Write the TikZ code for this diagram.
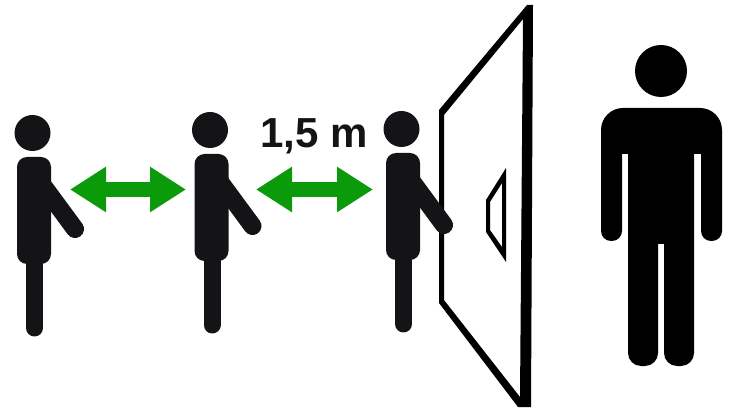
\documentclass[tikz,border=0pt]{standalone}
\usepackage{fontspec}
\setsansfont{Liberation Sans}
\usepackage[dvipsnames]{xcolor}
\usetikzlibrary{arrows.meta}
\definecolor{figblack}{HTML}{141416}
\definecolor{arrowgreen}{HTML}{0A9A0A}
\tikzset{
  limb/.style={draw=figblack, line width=#1, line cap=round},
  distarrow/.style={draw=arrowgreen, line width=15pt, {Triangle[length=36pt,width=43pt]}-{Triangle[length=36pt,width=43pt]}},
  distlabel/.style={inner sep=0pt, anchor=base west, text=figblack, font=\sffamily\bfseries\fontsize{42}{42}\selectfont},
}
\begin{document}
\begin{tikzpicture}[x=1pt, y=-1pt]
	 \useasboundingbox (0,0) rectangle (733,411);
	 % door
	 \fill[black, even odd rule] (439,110) -- (527,5) -- (533,5) -- (531,407) -- (518,407) -- (439,303) -- cycle
	      (523,19) -- (444,115) -- (444,300) -- (520,397) -- cycle;
	 \fill[black, even odd rule] (506,168) -- (486,200) -- (486,232) -- (506,262) -- cycle
	      (502,183) -- (490,202) -- (490,230) -- (502,247) -- cycle;
	 % queue
	 \foreach \x/\y in {0/0,177.5/-3,369/-4} {
	 \begin{scope}[shift={(\x,\y)}]
	      \fill[figblack] (32.5,133) circle (18);
	      \draw[limb=17pt] (34.5,255) -- (34.5,328);
	      \draw[limb=18pt] (42.8,185.3) -- (75,229);
	      \fill[figblack, rounded corners=10pt] (17,157) rectangle (51,264);
	 \end{scope}
	 }
	 % arrows
	 \coordinate (A) at (70,189.5);
	 \coordinate (B) at (186,189.5);
	 \coordinate (C) at (256,189.5);
	 \coordinate (D) at (373,189.5);
	 \draw[distarrow] (A) -- (B);
	 \draw[distarrow] (C) -- (D);
	 \node[distlabel] (dist) at (260,148) {1,5 m};
	 % big man
	 \fill[black] (661,71) circle (26);
	 \fill[black] (622,200) -- (622,154) -- (628,154) -- (628,200)
	      [rounded corners=13pt] -- (628,366) -- (658,366) [sharp corners] -- (658,244) -- (664,244)
	      [rounded corners=13pt] -- (664,366) -- (694,366) [sharp corners] -- (694,154) -- (701,154) -- (701,200)
	      [rounded corners=10pt] -- (701,241) -- (722,241) -- (722,180)
	      [rounded corners=22pt] -- (722,108) -- (601,108) -- (601,180)
	      [rounded corners=10pt] -- (601,241) -- (622,241) -- cycle;
\end{tikzpicture}
\end{document}
